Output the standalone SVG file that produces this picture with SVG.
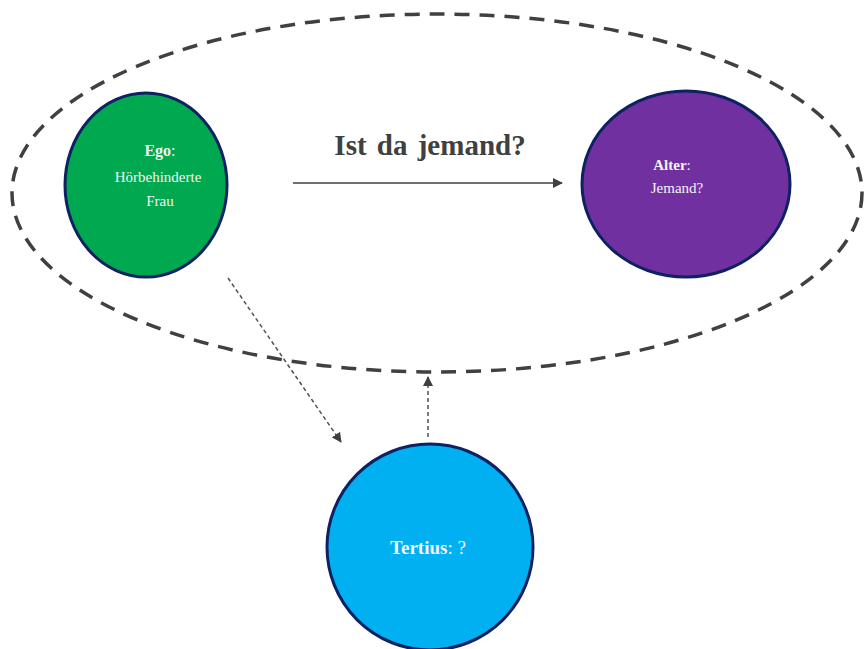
<svg xmlns="http://www.w3.org/2000/svg" width="864" height="649" viewBox="0 0 864 649">
<style>
.node{stroke:#0d2163;stroke-width:3}
.lbl{font-family:"Liberation Serif","Times New Roman",serif;font-size:15px;fill:#f4f4f4;text-anchor:middle}
.b{font-weight:bold}
.dash{fill:none;stroke:#404040;stroke-width:3.5;stroke-dasharray:15 10}
.dot{fill:none;stroke:#505050;stroke-width:1.5;stroke-dasharray:4 3}
</style>
<defs>
<marker id="ah" viewBox="0 0 10 10" refX="9" refY="5" markerWidth="10" markerHeight="10" markerUnits="userSpaceOnUse" orient="auto">
<path d="M0,0 L10,5 L0,10 z" fill="#404040"/>
</marker>
</defs>
<rect width="864" height="649" fill="#ffffff"/>
<ellipse class="dash" cx="437" cy="193" rx="425" ry="179"/>
<g id="connectors">
<line x1="293" y1="183" x2="562" y2="183" stroke="#404040" stroke-width="1.5" marker-end="url(#ah)"/>
<text x="430" y="155" font-family="Liberation Serif,serif" font-size="29" font-weight="bold" fill="#404040" text-anchor="middle" word-spacing="3">Ist da jemand?</text>
<line class="dot" x1="228" y1="278" x2="341" y2="442" marker-end="url(#ah)"/>
<line class="dot" x1="428" y1="437" x2="428" y2="377" marker-end="url(#ah)"/>
</g>
<g id="ego">
<ellipse class="node" cx="146" cy="185" rx="81" ry="92" fill="#00a84f"/>
<text class="lbl" x="160" y="156" style="font-size:16px"><tspan class="b">Ego</tspan>:</text>
<text class="lbl" x="158" y="182">Hörbehinderte</text>
<text class="lbl" x="160" y="206">Frau</text>
</g>
<g id="alter">
<ellipse class="node" cx="686" cy="184" rx="104" ry="93" fill="#7030a0"/>
<text class="lbl" x="672" y="170"><tspan class="b">Alter</tspan>:</text>
<text class="lbl" x="677" y="193">Jemand?</text>
</g>
<g id="tertius">
<ellipse class="node" cx="430" cy="547" rx="103" ry="103" fill="#00b0f0"/>
<text class="lbl" x="428" y="554" style="font-size:19px"><tspan class="b">Tertius</tspan>:  ?</text>
</g>
</svg>
